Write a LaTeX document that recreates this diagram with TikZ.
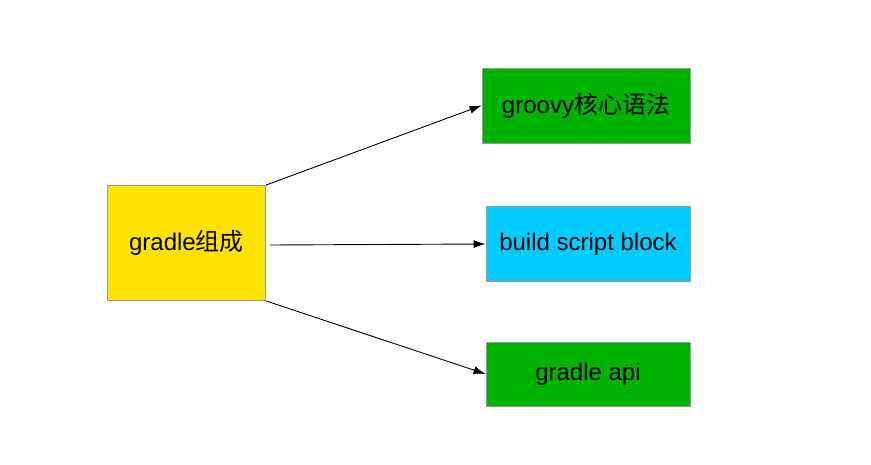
\documentclass[tikz,border=0pt]{standalone}
\usepackage{fontspec}
\setmainfont{Liberation Sans}
\newfontfamily\cjk{Noto Sans CJK SC}
\usepackage{xcolor}
\usetikzlibrary{arrows.meta}
\definecolor{boxyellow}{HTML}{FFE200}
\definecolor{boxgreen}{HTML}{00B300}
\definecolor{boxblue}{HTML}{00CCFF}
\definecolor{boxedge}{HTML}{9A9A9A}

\begin{document}
\begin{tikzpicture}[x=1pt,y=-1pt,>={Latex[length=12pt,width=8pt]},
  part/.style={draw=boxedge,line width=0.8pt,inner sep=0pt,font=\fontsize{24}{28}\selectfont},
  link/.style={->,black,line width=0.9pt}]
  % Frame: 871 by 465 (pixels of the reference)
  \useasboundingbox[fill=white] (0,0) rectangle (871,465);

  % Left box
  \node[part,fill=boxyellow,minimum width=158pt,minimum height=115pt] (gradle) at (186.5,243) {gradle{\cjk 组成}};

  % Right boxes
  \node[part,fill=boxgreen,minimum width=208pt,minimum height=75pt] (groovy) at (586,105.5) {groovy{\cjk 核心语法}};
  \node[part,fill=boxblue,minimum width=204pt,minimum height=75pt] (build) at (588,244) {build script block};
  \node[part,fill=boxgreen,minimum width=204pt,minimum height=64pt] (api) at (588,374) {gradle api};

  % Arrows
  \draw[link] (gradle.north east) -- (groovy.west);
  \draw[link] ([xshift=4pt,yshift=-2pt]gradle.east) -- (build.west);
  \draw[link] (gradle.south east) -- (api.west);
\end{tikzpicture}
\end{document}
